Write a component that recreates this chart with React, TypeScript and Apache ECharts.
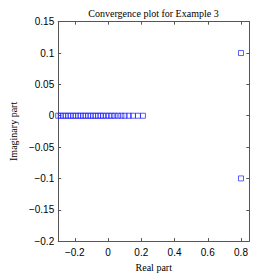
import React, { useEffect, useRef } from "react";
import * as echarts from "echarts";

const realParts = [
  -0.3, -0.285, -0.27, -0.255, -0.24, -0.225, -0.21, -0.195, -0.18, -0.165,
  -0.15, -0.135, -0.12, -0.105, -0.09, -0.075, -0.06, -0.045, -0.03, -0.012,
  0.005, 0.022, 0.04, 0.06, 0.08, 0.1, 0.125, 0.15, 0.18, 0.21, 0.8, 0.8,
];
const imagParts = [
  0, 0, 0, 0, 0, 0, 0, 0, 0, 0, 0, 0, 0, 0, 0, 0, 0, 0, 0, 0, 0, 0, 0, 0, 0,
  0, 0, 0, 0, 0, 0.1, -0.1,
];
const xTicks = [-0.2, 0, 0.2, 0.4, 0.6, 0.8];

const fmt = (v: number) => {
  const s = String(Math.round(v * 1000) / 1000);
  return s.replace("-", "\u2212");
};

export default function App() {
  const ref = useRef<HTMLDivElement>(null);
  useEffect(() => {
    if (!ref.current) return;
    const chart = echarts.init(ref.current, null, { renderer: "svg" });
    const axisColor = "#555";
    const sans = "Liberation Sans, Arial, sans-serif";
    const serif = "Liberation Serif, Times New Roman, serif";
    chart.setOption({
      animation: false,
      backgroundColor: "#fff",
      title: {
        text: "Convergence plot for Example 3",
        left: 148.5,
        textAlign: "center",
        top: 3,
        textStyle: { fontFamily: serif, fontSize: 10, fontWeight: "normal", color: "#000" },
      },
      grid: { left: 47.7, right: 27.7, top: 21.7, bottom: 30.3 },
      xAxis: [
        {
          type: "value",
          min: -0.3,
          max: 0.85,
          position: "bottom",
          name: "Real part",
          nameLocation: "middle",
          nameGap: 16,
          nameTextStyle: { fontFamily: serif, fontSize: 10, color: "#000" },
          axisLine: { onZero: false, lineStyle: { color: axisColor, width: 1 } },
          axisTick: { inside: true, length: 3, customValues: xTicks, lineStyle: { color: axisColor } },
          axisLabel: {
            customValues: xTicks,
            formatter: (v: number) => fmt(v),
            fontFamily: sans,
            fontSize: 10,
            color: "#000",
            margin: 6,
          },
          splitLine: { show: false },
        },
        {
          type: "value",
          min: -0.3,
          max: 0.85,
          position: "top",
          axisLine: { onZero: false, lineStyle: { color: axisColor, width: 1 } },
          axisTick: { inside: true, length: 3, customValues: xTicks, lineStyle: { color: axisColor } },
          axisLabel: { show: false },
          splitLine: { show: false },
        },
      ],
      yAxis: [
        {
          type: "value",
          min: -0.2,
          max: 0.15,
          interval: 0.05,
          position: "left",
          name: "Imaginary part",
          nameLocation: "middle",
          nameGap: 34,
          nameRotate: 90,
          nameTextStyle: { fontFamily: serif, fontSize: 10, color: "#000" },
          axisLine: { onZero: false, lineStyle: { color: axisColor, width: 1 } },
          axisTick: { inside: true, length: 3, lineStyle: { color: axisColor } },
          axisLabel: {
            formatter: (v: number) => fmt(v),
            fontFamily: sans,
            fontSize: 10,
            color: "#000",
            margin: 4,
          },
          splitLine: { show: false },
        },
        {
          type: "value",
          min: -0.2,
          max: 0.15,
          interval: 0.05,
          position: "right",
          axisLine: { onZero: false, lineStyle: { color: axisColor, width: 1 } },
          axisTick: { inside: true, length: 3, lineStyle: { color: axisColor } },
          axisLabel: { show: false },
          splitLine: { show: false },
        },
      ],
      series: [
        {
          type: "scatter",
          xAxisIndex: 0,
          yAxisIndex: 0,
          symbol: "rect",
          symbolSize: 5,
          itemStyle: { color: "transparent", borderColor: "#1f1fff", borderWidth: 0.9 },
          data: realParts.map((x, i) => [x, imagParts[i]]),
        },
      ],
    });
    return () => chart.dispose();
  }, []);
  return (
    <div
      ref={ref}
      style={{ position: "absolute", left: 0, top: 0, width: 277, height: 277 }}
    />
  );
}
